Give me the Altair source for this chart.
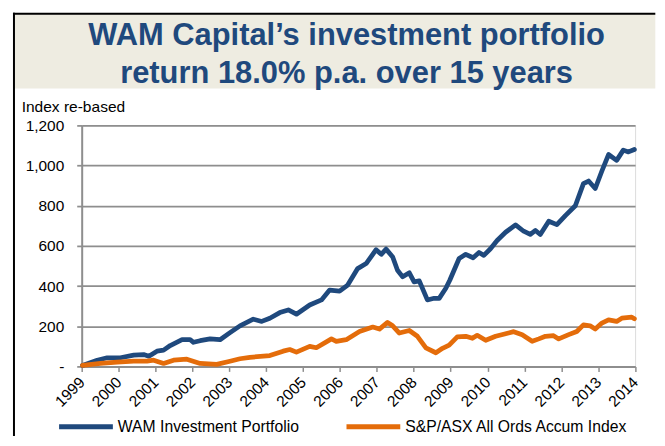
import altair as alt
import pandas as pd

# ---- data ----
title_lines = ["WAM Capital\u2019s investment portfolio", "return 18.0% p.a. over 15 years"]
y_title = "Index re-based"
series_names = ["WAM Investment Portfolio", "S&P/ASX All Ords Accum Index"]
series_colors = ["#1F497D", "#E46C0A"]
year_ticks = list(range(1999, 2015))
value_ticks = [0, 200, 400, 600, 800, 1000, 1200]

wam_years = [1999.02, 1999.42, 1999.69, 2000.05, 2000.41, 2000.68, 2000.82, 2001.04, 2001.22, 2001.40,
             2001.72, 2001.94, 2002.03, 2002.21, 2002.48, 2002.75, 2003.02, 2003.29, 2003.65, 2003.88,
             2004.10, 2004.37, 2004.60, 2004.82, 2005.18, 2005.50, 2005.72, 2005.99, 2006.21, 2006.48,
             2006.71, 2006.98, 2007.12, 2007.25, 2007.43, 2007.56, 2007.70, 2007.88, 2008.01, 2008.15,
             2008.37, 2008.55, 2008.69, 2008.87, 2008.98, 2009.23, 2009.41, 2009.61, 2009.77, 2009.90,
             2010.08, 2010.26, 2010.49, 2010.76, 2010.98, 2011.16, 2011.30, 2011.43, 2011.66, 2011.88,
             2012.11, 2012.38, 2012.60, 2012.74, 2012.92, 2013.10, 2013.28, 2013.50, 2013.68, 2013.82,
             2013.98]
wam_values = [5, 31, 43, 43, 56, 59, 51, 76, 81, 104,
              133, 133, 120, 128, 137, 133, 168, 202, 235, 224,
              240, 268, 281, 260, 306, 331, 380, 375, 405, 487,
              512, 581, 558, 584, 545, 479, 446, 466, 421, 426,
              331, 339, 339, 389, 430, 537, 558, 541, 567, 553,
              586, 627, 668, 705, 673, 657, 677, 657, 723, 706,
              751, 800, 910, 923, 886, 973, 1055, 1026, 1077, 1068,
              1080]

asx_years = [1999.02, 1999.51, 1999.96, 2000.41, 2000.77, 2000.95, 2001.22, 2001.49, 2001.85, 2002.21,
             2002.66, 2003.02, 2003.29, 2003.56, 2004.10, 2004.46, 2004.64, 2004.82, 2005.18, 2005.36,
             2005.77, 2005.90, 2006.17, 2006.53, 2006.89, 2007.07, 2007.29, 2007.43, 2007.61, 2007.88,
             2008.10, 2008.33, 2008.60, 2008.78, 2008.96, 2009.18, 2009.41, 2009.59, 2009.72, 2009.95,
             2010.22, 2010.49, 2010.71, 2010.94, 2011.21, 2011.39, 2011.57, 2011.79, 2011.93, 2012.20,
             2012.42, 2012.60, 2012.78, 2012.92, 2013.10, 2013.28, 2013.50, 2013.64, 2013.91, 2013.98]
asx_values = [5, 15, 21, 26, 26, 31, 15, 31, 36, 15,
              10, 26, 38, 45, 54, 76, 84, 71, 100, 93,
              137, 125, 133, 174, 196, 186, 219, 202, 166, 179,
              150, 92, 68, 90, 106, 147, 150, 140, 155, 130,
              150, 163, 173, 158, 125, 137, 150, 153, 137, 158,
              174, 207, 202, 186, 216, 232, 224, 240, 245, 237]

df = pd.concat([
    pd.DataFrame({"year": wam_years, "value": wam_values, "series": series_names[0]}),
    pd.DataFrame({"year": asx_years, "value": asx_values, "series": series_names[1]}),
], ignore_index=True)

FONT = "Liberation Sans"
GRID = "#8e8e8e"
one = pd.DataFrame({"k": [0]})

lines = alt.Chart(df).mark_line(strokeWidth=4.75, strokeJoin="round", strokeCap="round").encode(
    x=alt.X("year:Q",
            scale=alt.Scale(domain=[1999, 2014], nice=False, zero=False),
            axis=alt.Axis(values=year_ticks, format="d", labelAngle=315, labelAlign="right",
                          labelBaseline="middle", title=None, grid=False,
                          domainColor=GRID, domainWidth=2, tickColor=GRID, tickWidth=1.5, tickSize=5,
                          labelFont=FONT, labelFontSize=15.5, labelColor="black", labelPadding=8,
                          labelOverlap=False, labelBound=False, labelFlush=False)),
    y=alt.Y("value:Q",
            scale=alt.Scale(domain=[0, 1200], nice=False),
            axis=alt.Axis(values=value_ticks, title=None, grid=True, gridColor=GRID, gridWidth=1.75,
                          labelExpr="datum.value == 0 ? '-' : format(datum.value, ',')",
                          domainColor=GRID, domainWidth=2, tickColor=GRID, tickWidth=1.75, tickSize=5,
                          labelFont=FONT, labelFontSize=15.5, labelColor="black", labelPadding=13)),
    color=alt.Color("series:N",
                    scale=alt.Scale(domain=series_names, range=series_colors),
                    legend=alt.Legend(orient="none", legendX=-25.2, legendY=292.7, direction="horizontal",
                                      title=None, symbolType="stroke", symbolSize=2916,
                                      symbolStrokeWidth=5, labelFont=FONT, labelFontSize=15.8,
                                      labelColor="black", labelOffset=2.5, columnPadding=44.6,
                                      clipHeight=20, padding=0, labelLimit=400)),
)

box = alt.Chart(one).mark_rect(color="#EEECE1").encode(
    x=alt.value(-67), x2=alt.value(576), y=alt.value(-112), y2=alt.value(-37))
top_rule = alt.Chart(one).mark_rule(color="black", strokeWidth=2).encode(
    x=alt.value(-69), x2=alt.value(576), y=alt.value(-112))
left_rule = alt.Chart(one).mark_rule(color="black", strokeWidth=2).encode(
    x=alt.value(-68), y=alt.value(-113), y2=alt.value(312))

title = alt.Chart(one).mark_text(text=title_lines, font=FONT, fontWeight="bold", fontSize=31,
                                 color="#1F497D", align="center", baseline="alphabetic",
                                 lineHeight=37.7).encode(x=alt.value(266), y=alt.value(-80.7))
ytitle = alt.Chart(one).mark_text(text=y_title, font=FONT, fontSize=15.6, color="black",
                                  align="left", baseline="alphabetic").encode(
    x=alt.value(-60.3), y=alt.value(-13.3))

chart = alt.layer(box, top_rule, left_rule, title, ytitle, lines).properties(
    width=555.7, height=242,
    padding={"left": 4, "top": 3, "right": 0, "bottom": 0},
).configure_view(stroke=None).configure(background="white")

chart.save("out.html", embed_options={"renderer": "svg", "actions": False})
